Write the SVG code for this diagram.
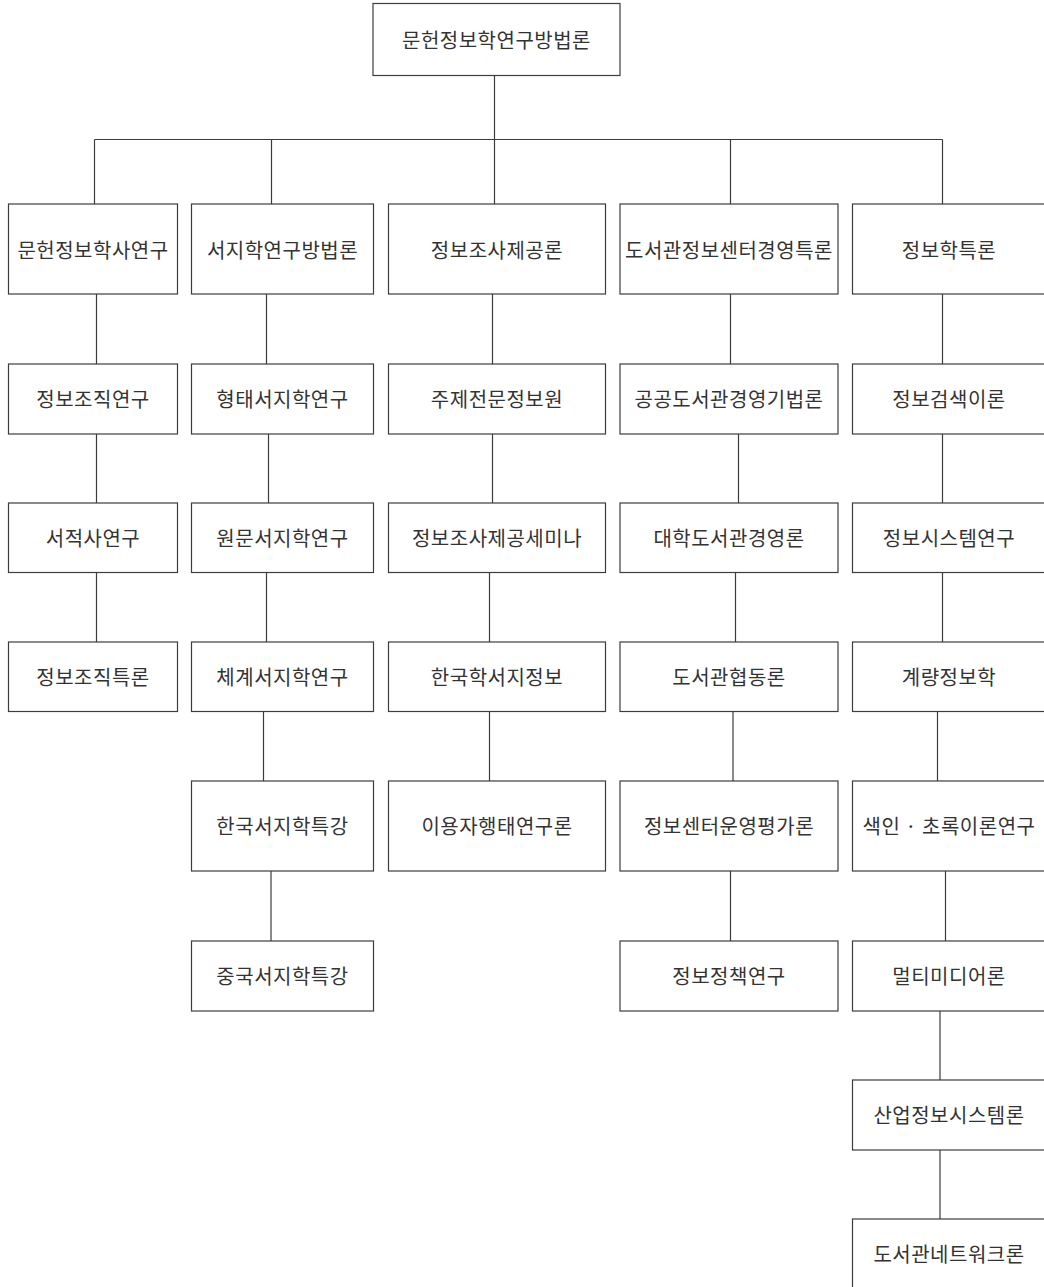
<svg xmlns="http://www.w3.org/2000/svg" width="1044" height="1287" viewBox="0 0 1044 1287">
<style>
.box{fill:#ffffff;stroke:#3c3c3c;stroke-width:1.2}
.lbl{font-family:"Noto Sans CJK KR","Noto Sans",sans-serif;font-size:20px;letter-spacing:0.5px;fill:#333333;text-anchor:middle}
.ln{stroke:#3c3c3c;stroke-width:1.2;fill:none}
</style>
<rect x="0" y="0" width="1044" height="1287" fill="#ffffff"/>
<g id="connectors">
<path class="ln" d="M494.5 75.5V204"/>
<path class="ln" d="M94.5 139.5H942.5"/>
<path class="ln" d="M94.5 139.5V204M271.5 139.5V204M730.5 139.5V204M942.5 139.5V204"/>
<path class="ln" d="M96.5 294V364M96.5 434V503M96.5 572.5V642"/>
<path class="ln" d="M266.5 294V364M268.5 434V503M266.5 572.5V642M263.5 711.5V781M271 871V941"/>
<path class="ln" d="M492.5 294V364M492.5 434V503M489.5 572.5V642M489.5 711.5V781"/>
<path class="ln" d="M730.5 294V364M738.5 434V503M735.5 572.5V642M733 711.5V781M730.5 871V941"/>
<path class="ln" d="M942.5 294V364M942.5 434V503M942.5 572.5V642M937.5 711.5V781M945.5 871V941M940 1011V1080M940 1150V1219"/>
</g>
<g id="n0"><rect class="box" x="373" y="3.5" width="247" height="72"/><text class="lbl" x="496.5" y="47.5">문헌정보학연구방법론</text></g>
<g id="c1r1"><rect class="box" x="8.5" y="204" width="169" height="90"/><text class="lbl" x="93" y="257.5">문헌정보학사연구</text></g>
<g id="c1r2"><rect class="box" x="8.5" y="364" width="169" height="70"/><text class="lbl" x="93" y="407">정보조직연구</text></g>
<g id="c1r3"><rect class="box" x="8.5" y="503" width="169" height="69.5"/><text class="lbl" x="93" y="546">서적사연구</text></g>
<g id="c1r4"><rect class="box" x="8.5" y="642" width="169" height="69.5"/><text class="lbl" x="93" y="685">정보조직특론</text></g>
<g id="c2r1"><rect class="box" x="191.5" y="204" width="182" height="90"/><text class="lbl" x="282.5" y="257.5">서지학연구방법론</text></g>
<g id="c2r2"><rect class="box" x="191.5" y="364" width="182" height="70"/><text class="lbl" x="282.5" y="407">형태서지학연구</text></g>
<g id="c2r3"><rect class="box" x="191.5" y="503" width="182" height="69.5"/><text class="lbl" x="282.5" y="546">원문서지학연구</text></g>
<g id="c2r4"><rect class="box" x="191.5" y="642" width="182" height="69.5"/><text class="lbl" x="282.5" y="685">체계서지학연구</text></g>
<g id="c2r5"><rect class="box" x="191.5" y="781" width="182" height="90"/><text class="lbl" x="282.5" y="834">한국서지학특강</text></g>
<g id="c2r6"><rect class="box" x="191.5" y="941" width="182" height="70"/><text class="lbl" x="282.5" y="984">중국서지학특강</text></g>
<g id="c3r1"><rect class="box" x="388.5" y="204" width="217" height="90"/><text class="lbl" x="497" y="257.5">정보조사제공론</text></g>
<g id="c3r2"><rect class="box" x="388.5" y="364" width="217" height="70"/><text class="lbl" x="497" y="407">주제전문정보원</text></g>
<g id="c3r3"><rect class="box" x="388.5" y="503" width="217" height="69.5"/><text class="lbl" x="497" y="546">정보조사제공세미나</text></g>
<g id="c3r4"><rect class="box" x="388.5" y="642" width="217" height="69.5"/><text class="lbl" x="497" y="685">한국학서지정보</text></g>
<g id="c3r5"><rect class="box" x="388.5" y="781" width="217" height="90"/><text class="lbl" x="497" y="834">이용자행태연구론</text></g>
<g id="c4r1"><rect class="box" x="620" y="204" width="218" height="90"/><text class="lbl" x="729" y="257.5">도서관정보센터경영특론</text></g>
<g id="c4r2"><rect class="box" x="620" y="364" width="218" height="70"/><text class="lbl" x="729" y="407">공공도서관경영기법론</text></g>
<g id="c4r3"><rect class="box" x="620" y="503" width="218" height="69.5"/><text class="lbl" x="729" y="546">대학도서관경영론</text></g>
<g id="c4r4"><rect class="box" x="620" y="642" width="218" height="69.5"/><text class="lbl" x="729" y="685">도서관협동론</text></g>
<g id="c4r5"><rect class="box" x="620" y="781" width="218" height="90"/><text class="lbl" x="729" y="834">정보센터운영평가론</text></g>
<g id="c4r6"><rect class="box" x="620" y="941" width="218" height="70"/><text class="lbl" x="729" y="984">정보정책연구</text></g>
<g id="c5r1"><rect class="box" x="852.5" y="204" width="193" height="90"/><text class="lbl" x="949" y="257.5">정보학특론</text></g>
<g id="c5r2"><rect class="box" x="852.5" y="364" width="193" height="70"/><text class="lbl" x="949" y="407">정보검색이론</text></g>
<g id="c5r3"><rect class="box" x="852.5" y="503" width="193" height="69.5"/><text class="lbl" x="949" y="546">정보시스템연구</text></g>
<g id="c5r4"><rect class="box" x="852.5" y="642" width="193" height="69.5"/><text class="lbl" x="949" y="685">계량정보학</text></g>
<g id="c5r5"><rect class="box" x="852.5" y="781" width="193" height="90"/><text class="lbl" x="949" y="834">색인 · 초록이론연구</text></g>
<g id="c5r6"><rect class="box" x="852.5" y="941" width="193" height="70"/><text class="lbl" x="949" y="984">멀티미디어론</text></g>
<g id="c5r7"><rect class="box" x="852.5" y="1080" width="193" height="70"/><text class="lbl" x="949" y="1123">산업정보시스템론</text></g>
<g id="c5r8"><rect class="box" x="852.5" y="1219" width="193" height="80"/><text class="lbl" x="949" y="1262">도서관네트워크론</text></g>
</svg>
